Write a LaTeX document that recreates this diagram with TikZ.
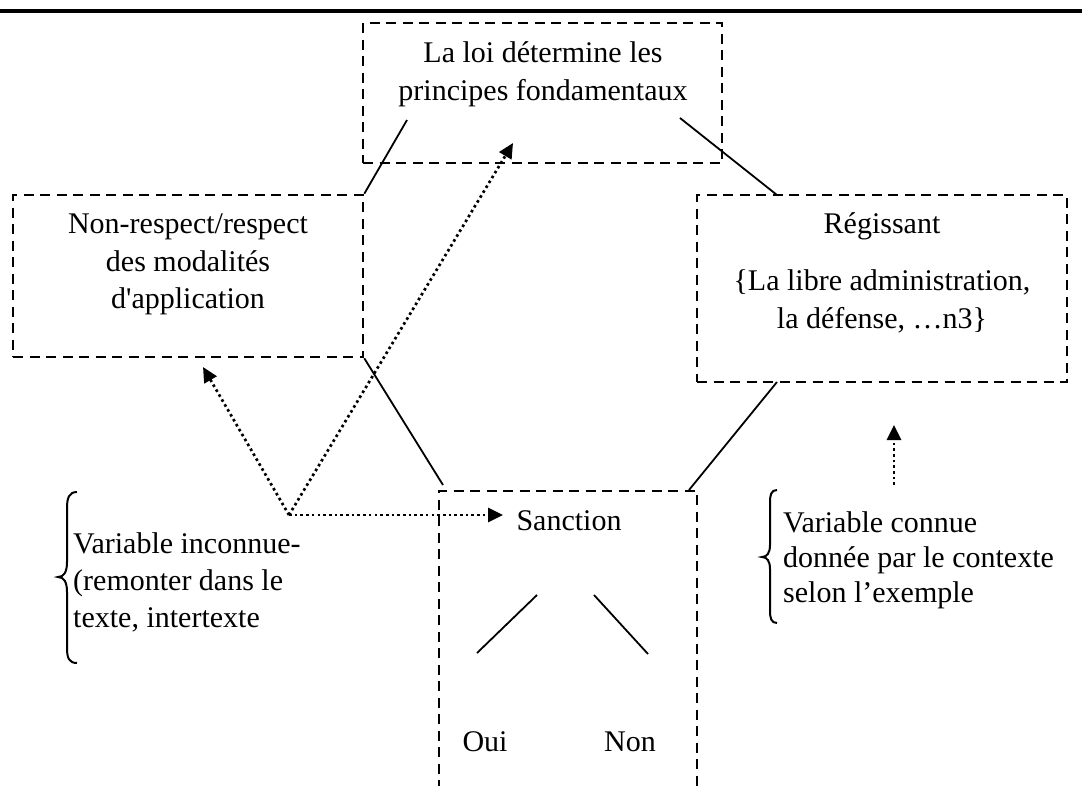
\documentclass[tikz,border=0pt]{standalone}
\usepackage{fontspec}
\setmainfont{Liberation Serif}
\usetikzlibrary{arrows.meta}
\begin{document}
\begin{tikzpicture}[x=1pt,y=-1pt,
  boxline/.style={line width=2.6pt, dash pattern=on 10pt off 6.5pt},
  box/.style={boxline, draw, inner sep=0pt},
  txt/.style={anchor=base, inner sep=0pt, font=\fontsize{30}{34}\selectfont},
  ltxt/.style={txt, anchor=base west},
  conn/.style={line width=1.8pt},
  dotarrow/.style={line width=2.7pt, dash pattern=on 2.6pt off 3.1pt, -{Triangle[length=15pt,width=14pt]}},
  bracepath/.style={line width=2pt}
]
\useasboundingbox (0,0) rectangle (1082,785);
% top rule
\draw[line width=3.8pt] (0,11) -- (1082,11);
% boxes
\node[box, minimum width=359pt, minimum height=140pt] (top) at (542.5,93) {};
\node[box, minimum width=350pt, minimum height=162pt] (left) at (188,276) {};
\node[box, minimum width=370pt, minimum height=187pt] (right) at (882,288.5) {};
% sanction box (open at bottom)
\coordinate (sbl) at (439,790);
\coordinate (stl) at (439,491);
\coordinate (str) at (697,491);
\coordinate (sbr) at (697,790);
\draw[boxline] (sbl) -- (stl) -- (str) -- (sbr);
% texts
\node[txt] (t1) at (543,62) {La loi détermine les};
\node[txt] (t2) at (543,100) {principes fondamentaux};
\node[txt] (l1) at (188,233) {Non-respect/respect};
\node[txt] (l2) at (188,271) {des modalités};
\node[txt] (l3) at (188,308) {d\textquotesingle application};
\node[txt] (r1) at (882,233) {Régissant};
\node[txt] (r2) at (882,290) {\{La libre administration,};
\node[txt] (r3) at (882,328) {la défense, …n3\}};
\node[txt] (san) at (569,530) {Sanction};
\node[txt] (oui) at (485,751) {Oui};
\node[txt] (non) at (630,751) {Non};
\node[ltxt] (a1) at (73,553) {Variable inconnue-};
\node[ltxt] (a2) at (73,590) {(remonter dans le};
\node[ltxt] (a3) at (73,627) {texte, intertexte};
\node[ltxt] (b1) at (783,532) {Variable connue};
\node[ltxt] (b2) at (783,567) {donnée par le contexte};
\node[ltxt] (b3) at (783,602) {selon l’exemple};
% braces
\draw[bracepath] (77,492) .. controls (69,492) and (67,498) .. (67,508) -- (67,562) .. controls (67,572) and (64,577) .. (58,577) .. controls (64,577) and (67,582) .. (67,592) -- (67,648) .. controls (67,658) and (69,663) .. (77,663);
\draw[bracepath] (777,490) .. controls (771,490) and (770,495) .. (770,503) -- (770,545) .. controls (770,553) and (767,557) .. (762,557) .. controls (767,557) and (770,561) .. (770,569) -- (770,610) .. controls (770,618) and (771,623) .. (777,623);
% solid connectors
\coordinate (topL) at (407,120);
\coordinate (topR) at (680,118);
\coordinate (rTop) at (777,195);
\coordinate (rBot) at (777,382);
\coordinate (sTR) at (689,490);
\coordinate (sTL) at (443,485);
\draw[conn] (topL) -- (left.north east);
\draw[conn] (topR) -- (rTop);
\draw[conn] (rBot) -- (sTR);
\draw[conn] (left.south east) -- (sTL);
\coordinate (o1a) at (537,595); \coordinate (o1b) at (477,653);
\coordinate (o2a) at (594,595); \coordinate (o2b) at (648,654);
\draw[conn] (o1a) -- (o1b);
\draw[conn] (o2a) -- (o2b);
% dotted arrows
\coordinate (o) at (289,515);
\coordinate (tipL) at (203,367);
\coordinate (tipT) at (513,143);
\coordinate (tipS) at (503,515);
\coordinate (upA) at (894,485);
\coordinate (upB) at (894,425);
\draw[dotarrow] (o) -- (tipL);
\draw[dotarrow] (o) -- (tipT);
\draw[dotarrow] (o) -- (tipS);
\draw[dotarrow] (upA) -- (upB);
\end{tikzpicture}
\end{document}
